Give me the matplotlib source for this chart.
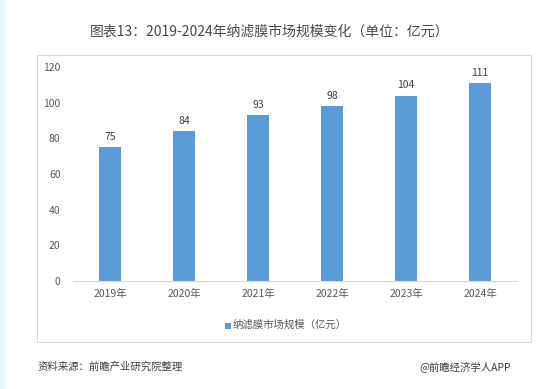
import matplotlib.pyplot as plt
from matplotlib.patches import Rectangle

plt.rcParams['font.family'] = ['Noto Sans CJK SC', 'DejaVu Sans']

years = ["2019年", "2020年", "2021年", "2022年", "2023年", "2024年"]
market_size = [75, 84, 93, 98, 104, 111]
y_ticks = [0, 20, 40, 60, 80, 100, 120]

title = "图表13：2019-2024年纳滤膜市场规模变化（单位：亿元）"
legend_label = "纳滤膜市场规模（亿元）"
source = "资料来源：前瞻产业研究院整理"
brand = "@前瞻经济学人APP"

W, H = 551, 389
fig = plt.figure(figsize=(W / 100, H / 100), dpi=100)
fig.patch.set_facecolor("white")

# light blue strip on the left page edge
fig.patches.append(Rectangle((0, 0), 5 / W, 1, transform=fig.transFigure,
                             facecolor="#EAF4FC", edgecolor="none", zorder=-2))
# chart frame
fig.patches.append(Rectangle((37 / W, 1 - 342 / H), 494 / W, 287 / H,
                             transform=fig.transFigure, facecolor="white",
                             edgecolor="#D9D9D9", linewidth=0.8, zorder=-1))

ax = fig.add_axes([73 / W, 1 - 281 / H, 444 / W, 214 / H])
ax.set_facecolor("none")
x = range(len(years))
bars = ax.bar(x, market_size, width=0.31, color="#5B9BD5")
for b, v in zip(bars, market_size):
    ax.text(b.get_x() + b.get_width() / 2, v + 3, str(v), ha="center",
            va="bottom", fontsize=7.5, color="#404040")

ax.set_xlim(-0.5, len(years) - 0.5)
ax.set_ylim(0, 120)
ax.set_yticks(y_ticks)
ax.set_xticks(list(x))
ax.set_xticklabels(years)
ax.tick_params(axis="both", length=0, labelsize=7.5, colors="#595959")
ax.tick_params(axis="y", pad=9)
ax.tick_params(axis="x", pad=6)
for s in ["top", "right", "left"]:
    ax.spines[s].set_visible(False)
ax.spines["bottom"].set_color("#D9D9D9")
ax.spines["bottom"].set_linewidth(0.8)

# legend
fig.patches.append(Rectangle((225 / W, 1 - 329 / H), 6 / W, 6 / H,
                             transform=fig.transFigure, facecolor="#5B9BD5",
                             edgecolor="none"))
fig.text(233 / W, 1 - 325 / H, legend_label, fontsize=7.5, color="#595959",
         va="center", ha="left")

fig.text(270 / W, 1 - 32 / H, title, fontsize=10, color="#4a4a4a",
         ha="center", va="center", fontweight="light")
fig.text(38 / W, 1 - 367 / H, source, fontsize=7.5, color="#404040",
         ha="left", va="center", style="italic")
fig.text(511 / W, 1 - 367 / H, brand, fontsize=7.5, color="#404040",
         ha="right", va="center")

fig.savefig("out.png", dpi=100)
